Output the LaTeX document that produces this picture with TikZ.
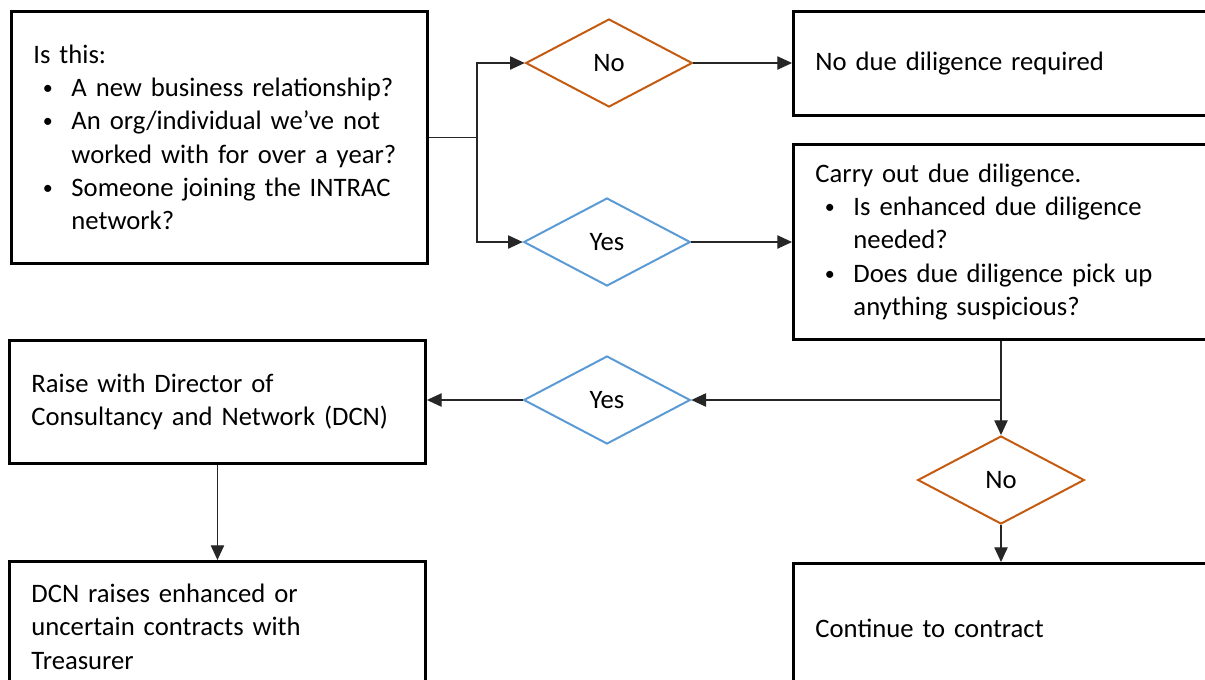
\documentclass[tikz,border=0pt]{standalone}
\usepackage{fontspec}
\setmainfont{Carlito}
\usetikzlibrary{shapes.geometric,arrows.meta}

\definecolor{noorange}{RGB}{197,90,17}
\definecolor{yesblue}{RGB}{91,155,213}

\newcommand{\bitem}[1]{\par\noindent\hspace*{7pt}\makebox[21.5pt][l]{\raisebox{1.5pt}{\fontsize{15}{15}\selectfont\textbullet}}#1}
\newcommand{\bmore}[1]{\par\noindent\hspace*{28.5pt}#1}

\tikzset{
  box/.style={draw, line width=2.2pt, anchor=north west, align=left,
    inner xsep=16.5pt, inner ysep=0pt, text width=279pt,
    font=\fontsize{20}{25}\selectfont},
  decide/.style={diamond, draw, line width=1.5pt, fill=white,
    minimum width=125pt, minimum height=66pt, inner sep=0pt,
    font=\fontsize{20}{25}\selectfont},
  conn/.style={draw=black!85, line width=0.9pt},
  arr/.style={conn, -{Triangle[length=11pt,width=10pt]}}
}

\begin{document}
\begin{tikzpicture}[x=0.75pt,y=-0.75pt]

\clip (0,0) rectangle (1205,679);

\node[box, minimum height=189pt] (ask) at (10,10) {Is this:
\bitem{A new business relationship?}
\bitem{An org/individual we’ve not}
\bmore{worked with for over a year?}
\bitem{Someone joining the INTRAC}
\bmore{network?}};

\node[box, minimum height=78pt] (none) at (792,10) {No due diligence required};

\node[box, minimum height=146pt] (check) at (792,143) {Carry out due diligence.
\bitem{Is enhanced due diligence}
\bmore{needed?}
\bitem{Does due diligence pick up}
\bmore{anything suspicious?}};

\node[box, minimum height=92pt] (raise) at (8,339) {Raise with Director of\\Consultancy and Network (DCN)};

\node[box, minimum height=98pt] (treas) at (8,560) {DCN raises enhanced or\\uncertain contracts with\\Treasurer};

\node[box, minimum height=98pt] (cont) at (792,562) {Continue to contract};

\node[decide, draw=noorange] (noA) at (609,63) {No};
\node[decide, draw=yesblue] (yesA) at (607,242) {Yes};
\node[decide, draw=yesblue] (yesB) at (607,400) {Yes};
\node[decide, draw=noorange] (noB) at (1001,480) {No};

\coordinate (split) at ([xshift=36pt]ask.east);
\coordinate (join) at (1001,400);

\draw[conn] (ask.east) -- (split);
\draw[arr] (split) |- (noA.west);
\draw[arr] (split) |- (yesA.west);
\draw[arr] (noA.east) -- (noA.east -| none.west);
\draw[arr] (yesA.east) -- (yesA.east -| check.west);
\draw[arr] (check.south -| join) -- (noB.north);
\draw[arr] (join) -- (yesB.east);
\draw[arr] (yesB.west) -- (yesB.west -| raise.east);
\draw[arr] (raise.south) -- (treas.north);
\draw[arr] (noB.south) -- (noB.south |- cont.north);

\end{tikzpicture}
\end{document}
